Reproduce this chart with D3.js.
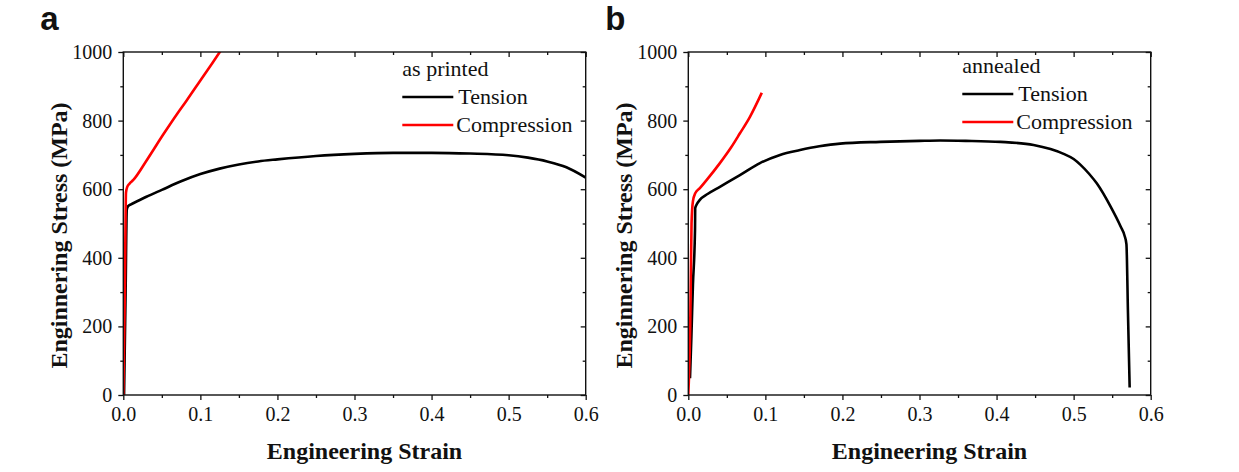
<!DOCTYPE html>
<html>
<head>
<meta charset="utf-8">
<script src="https://cdn.jsdelivr.net/npm/d3@7"></script>
<style>
  body { margin: 0; background: #fff; }
  svg { display: block; }
</style>
</head>
<body>
<div class="chart"></div>
<script>
const width = 1239,
    height = 472;

// axis ticks
const strainTicks = [0, 0.1, 0.2, 0.3, 0.4, 0.5, 0.6];
const strainMinor = [0.05, 0.15, 0.25, 0.35, 0.45, 0.55];
const stressTicks = [0, 200, 400, 600, 800, 1000];
const stressMinor = [100, 300, 500, 700, 900];

// curves: [strain, stress MPa]
const printedTension = [
  [0.001, 0], [0.003, 300], [0.0045, 540], [0.006, 550], [0.01, 556], [0.02, 567],
  [0.03, 578], [0.05, 598], [0.075, 623], [0.1, 644], [0.125, 660], [0.15, 672],
  [0.175, 681], [0.2, 687], [0.25, 697], [0.3, 703], [0.35, 706], [0.4, 706],
  [0.45, 704], [0.5, 699], [0.525, 692], [0.55, 681], [0.575, 664], [0.6, 634]
];
const printedCompression = [
  [0, 0], [0.002, 300], [0.0035, 590], [0.005, 606], [0.008, 616], [0.013, 627],
  [0.03, 683], [0.052, 760], [0.07, 820], [0.082, 858], [0.1, 917], [0.115, 966],
  [0.127, 1006]
];
const annealedTension = [
  [0.0022, 49], [0.004, 170], [0.006, 320], [0.0087, 481], [0.009, 545], [0.011, 556],
  [0.015, 569], [0.025, 586], [0.041, 607], [0.067, 641], [0.093, 676], [0.119, 700],
  [0.145, 714], [0.17, 725], [0.197, 733], [0.249, 738], [0.3, 741], [0.327, 742],
  [0.36, 741], [0.405, 738], [0.448, 729], [0.47, 717], [0.487, 703], [0.5, 688],
  [0.509, 671], [0.52, 645], [0.53, 617], [0.548, 549], [0.561, 491], [0.566, 465],
  [0.5685, 440], [0.5705, 240], [0.5727, 22]
];
const annealedCompression = [
  [0, 0], [0.0025, 200], [0.0042, 500], [0.006, 565], [0.009, 588], [0.015, 603],
  [0.025, 630], [0.041, 676], [0.055, 720], [0.067, 763], [0.08, 811], [0.0953, 881]
];

const seriesNames = ["Tension", "Compression"];
const seriesColors = ["#000000", "#ff0000"];

const panels = [
  { letter: "a", label: "as printed", left: 123.3, tension: printedTension, compression: printedCompression },
  { letter: "b", label: "annealed", left: 688.3, tension: annealedTension, compression: annealedCompression }
];

const plotW = 462.4, plotH = 343, plotTop = 52;
const serif = "'Liberation Serif', 'Times New Roman', serif";

const svg = d3.select(".chart").append("svg")
    .attr("width", width)
    .attr("height", height);

panels.forEach((p, i) => {
  const g = svg.append("g").attr("transform", `translate(${p.left},${plotTop})`);

  const x = d3.scaleLinear().domain([0, 0.6]).range([0, plotW]);
  const y = d3.scaleLinear().domain([0, 1000]).range([plotH, 0]);

  g.append("clipPath").attr("id", "clip" + i)
    .append("rect").attr("width", plotW).attr("height", plotH);

  // ticks: bottom/left outward, top/right inward
  const styleAxis = sel => {
    sel.attr("font-family", null).attr("font-size", null);
    sel.select(".domain").remove();
    sel.selectAll("line").attr("stroke", "#111").attr("stroke-width", 1.3);
    sel.selectAll("text")
      .style("font-family", serif).style("font-size", "20px").attr("fill", "#111");
  };

  g.append("g").attr("transform", `translate(0,${plotH})`)
    .call(d3.axisBottom(x).tickValues(strainTicks).tickSize(5).tickPadding(7).tickFormat(d3.format(".1f")))
    .call(styleAxis);
  g.append("g").attr("transform", `translate(0,${plotH})`)
    .call(d3.axisBottom(x).tickValues(strainMinor).tickSize(3).tickFormat(""))
    .call(styleAxis);
  g.append("g")
    .call(d3.axisLeft(y).tickValues(stressTicks).tickSize(5).tickPadding(6).tickFormat(d3.format("d")))
    .call(styleAxis);
  g.append("g")
    .call(d3.axisLeft(y).tickValues(stressMinor).tickSize(3).tickFormat(""))
    .call(styleAxis);
  g.append("g")
    .call(d3.axisTop(x).tickValues(strainTicks).tickSize(-5).tickFormat(""))
    .call(styleAxis);
  g.append("g")
    .call(d3.axisTop(x).tickValues(strainMinor).tickSize(-3).tickFormat(""))
    .call(styleAxis);
  g.append("g").attr("transform", `translate(${plotW},0)`)
    .call(d3.axisRight(y).tickValues(stressTicks).tickSize(-5).tickFormat(""))
    .call(styleAxis);
  g.append("g").attr("transform", `translate(${plotW},0)`)
    .call(d3.axisRight(y).tickValues(stressMinor).tickSize(-3).tickFormat(""))
    .call(styleAxis);

  const line = d3.line()
    .x(d => x(d[0]))
    .y(d => y(d[1]))
    .curve(d3.curveMonotoneX);

  const curves = g.append("g").attr("clip-path", `url(#clip${i})`);
  [p.tension, p.compression].forEach((data, k) => {
    curves.append("path")
      .datum(data)
      .attr("fill", "none")
      .attr("stroke", seriesColors[k])
      .attr("stroke-width", 2.6)
      .attr("stroke-linejoin", "round")
      .attr("d", line);
  });

  // frame
  g.append("rect")
    .attr("width", plotW).attr("height", plotH)
    .attr("fill", "none").attr("stroke", "#111").attr("stroke-width", 1.4);

  // legend
  const lx = i === 0 ? 279 : 274, ly = i === 0 ? 24 : 21;
  const leg = g.append("g").attr("transform", `translate(${lx},${ly})`)
    .style("font-family", serif).style("font-size", "22px").attr("fill", "#111");
  leg.append("text").attr("x", 0).attr("y", 0).text(p.label);
  seriesNames.forEach((name, k) => {
    const yy = 21 + k * 28;
    leg.append("line")
      .attr("x1", 0).attr("x2", 51).attr("y1", yy).attr("y2", yy)
      .attr("stroke", seriesColors[k]).attr("stroke-width", 2.6);
    leg.append("text").attr("x", 56 + (k === 1 ? -2 : 0)).attr("y", yy + 7).text(name);
  });

  // axis titles
  g.append("text")
    .attr("x", plotW / 2 + 10).attr("y", 407)
    .attr("text-anchor", "middle")
    .style("font-family", serif).style("font-size", "24px").attr("font-weight", "bold")
    .attr("fill", "#111")
    .text("Engineering Strain");
  g.append("text")
    .attr("transform", `translate(-56,${plotH / 2 + 12}) rotate(-90)`)
    .attr("text-anchor", "middle")
    .style("font-family", serif).style("font-size", "24px").attr("font-weight", "bold")
    .attr("fill", "#111")
    .text("Enginnering Stress (MPa)");

  // panel letter
  svg.append("text")
    .attr("x", p.left - 83).attr("y", 30)
    .style("font-family", "'Liberation Sans', Arial, sans-serif")
    .style("font-size", "33px").attr("font-weight", "bold")
    .attr("fill", "#111")
    .text(p.letter);
});
</script>
</body>
</html>
